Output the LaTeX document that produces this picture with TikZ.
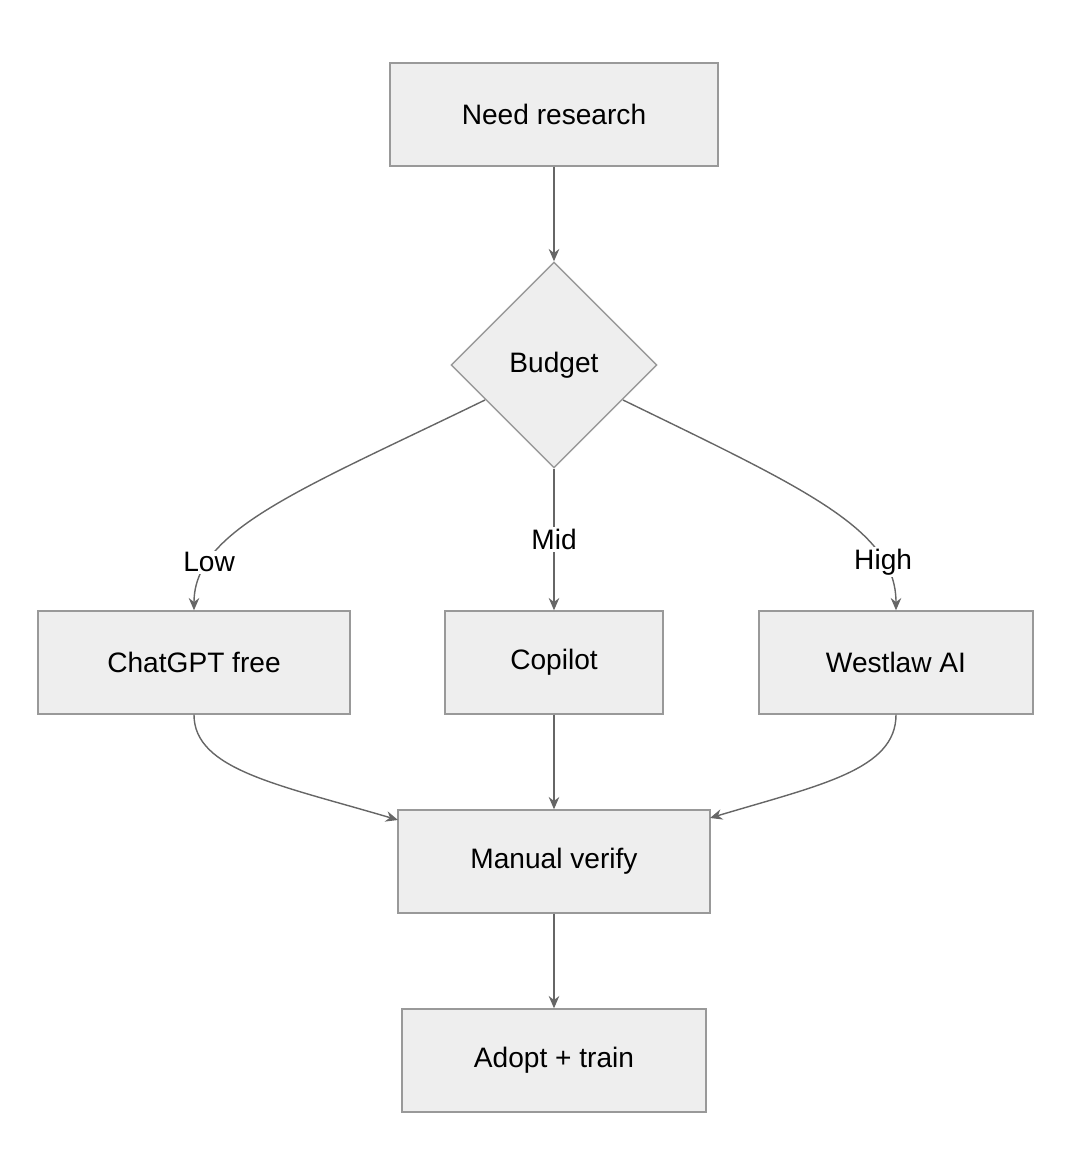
\documentclass[tikz,border=0pt]{standalone}
\usepackage{fontspec}
\setmainfont{Liberation Sans}
\usetikzlibrary{shapes.geometric,arrows.meta}
\definecolor{bx}{HTML}{EEEEEE}
\definecolor{bd}{HTML}{999999}
\definecolor{ln}{HTML}{666666}
\begin{document}
\begin{tikzpicture}[x=0.02cm,y=-0.02cm,
  box/.style={draw=bd,fill=bx,line width=0.8pt,minimum height=103*0.02cm,inner sep=0pt,font=\fontsize{16}{19}\selectfont},
  arr/.style={draw=ln,line width=0.8pt,-{Stealth[length=7pt,width=6pt]}},
  lbl/.style={fill=white,inner sep=1pt,font=\fontsize{16}{19}\selectfont}]
\useasboundingbox (0,0) rectangle (1072,1176);
\node[box,minimum width=328*0.02cm] (need) at (554,114.5) {Need research};
\node[box,diamond,minimum width=206*0.02cm,minimum height=206*0.02cm,aspect=1] (bud) at (554,365) {Budget};
\node[box,minimum width=312*0.02cm] (chat) at (194,662.5) {ChatGPT free};
\node[box,minimum width=218*0.02cm] (cop) at (554,662.5) {Copilot};
\node[box,minimum width=274*0.02cm] (west) at (896,662.5) {Westlaw AI};
\node[box,minimum width=312*0.02cm] (man) at (554,861.5) {Manual verify};
\node[box,minimum width=304*0.02cm] (ad) at (554,1060.5) {Adopt + train};
\coordinate (bl) at (485,400);
\coordinate (br) at (623,400);
\coordinate (mL) at (398,820);
\coordinate (mR) at (710,818);
\draw[arr] (need) -- (bud);
\draw[arr] (bl) .. controls (300,490) and (194,530) .. node[pos=0.78,lbl] {Low} (chat.north);
\draw[arr] (bud.south) -- node[pos=0.5,lbl] {Mid} (cop.north);
\draw[arr] (br) .. controls (808,490) and (896,530) .. node[pos=0.78,lbl] {High} (west.north);
\draw[arr] (chat.south) .. controls (194,770) and (280,785) .. (mL);
\draw[arr] (cop) -- (man);
\draw[arr] (west.south) .. controls (896,770) and (820,785) .. (mR);
\draw[arr] (man) -- (ad);
\end{tikzpicture}
\end{document}
